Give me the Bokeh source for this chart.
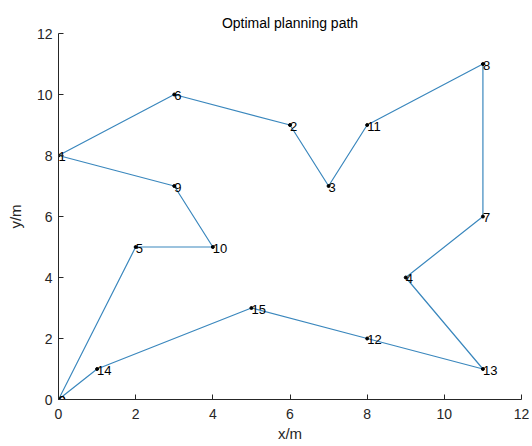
from bokeh.plotting import figure
from bokeh.embed import file_html
from bokeh.resources import INLINE
from bokeh.core.properties import value
from bokeh.models import ColumnDataSource, FixedTicker

# Path order and coordinates (closed tour back to node 0)
node_ids = ["0", "14", "15", "12", "13", "4", "7", "8", "11", "3", "2", "6", "1", "9", "10", "5", "0"]
xs = [0, 1, 5, 8, 11, 9, 11, 11, 8, 7, 6, 3, 0, 3, 4, 2, 0]
ys = [0, 1, 3, 2, 1, 4, 6, 11, 9, 7, 9, 10, 8, 7, 5, 5, 0]
ticks = [0, 2, 4, 6, 8, 10, 12]

FONT = "Liberation Sans"

p = figure(width=532, height=446, output_backend="svg", toolbar_location=None,
           x_range=(0, 12), y_range=(0, 12),
           min_border_left=58, min_border_right=11, min_border_top=33, min_border_bottom=47,
           title="Optimal planning path")
p.title.align = "center"
p.title.text_font = FONT
p.title.text_font_size = "14px"
p.title.text_font_style = "normal"
p.title.text_color = "#000000"
p.title.offset = 0
p.title.standoff = 6

p.grid.visible = False
p.outline_line_color = None
p.background_fill_color = "white"
p.border_fill_color = "white"

for ax in (p.xaxis, p.yaxis):
    ax.ticker = FixedTicker(ticks=ticks)
    ax.minor_tick_line_color = None
    ax.major_tick_in = 5
    ax.major_tick_out = 0
    ax.axis_line_color = "#262626"
    ax.major_tick_line_color = "#262626"
    ax.major_label_text_font = FONT
    ax.major_label_text_font_size = "14px"
    ax.major_label_text_color = "#262626"
    ax.axis_label_text_font = FONT
    ax.axis_label_text_font_size = "15px"
    ax.axis_label_text_font_style = "normal"
    ax.axis_label_text_color = "#262626"

p.xaxis.axis_label = "x/m"
p.yaxis.axis_label = "y/m"
p.xaxis.major_label_standoff = 9
p.yaxis.major_label_standoff = 6
p.xaxis.axis_label_standoff = 3
p.yaxis.axis_label_standoff = 10

src = ColumnDataSource(dict(x=xs, y=ys, t=node_ids))
p.line("x", "y", source=src, line_color="#3a87bd", line_width=1.2)
p.scatter("x", "y", source=src, size=3, color="black")
p.text("x", "y", text="t", source=src, x_offset=0, y_offset=1,
       text_baseline="middle", text_align="left",
       text_font=value(FONT), text_font_size="13px", text_color="black")

open("out.html", "w").write(file_html(p, INLINE))
